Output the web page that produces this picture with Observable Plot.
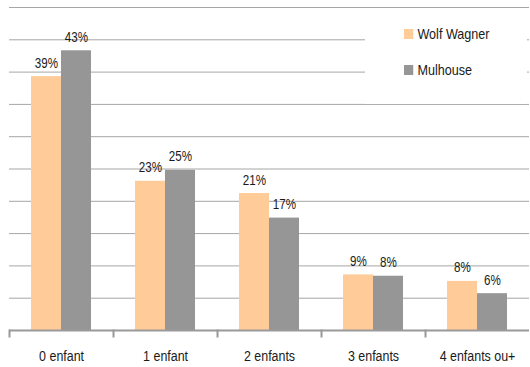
<!DOCTYPE html>
<html>
<head>
<meta charset="utf-8">
<script src="https://cdn.jsdelivr.net/npm/d3@7"></script>
<script src="https://cdn.jsdelivr.net/npm/@observablehq/plot@0.6"></script>
<style>
  html, body { margin: 0; padding: 0; background: #fff; overflow: hidden; }
  #chart { position: relative; width: 530px; height: 367px; }
  .font { font-family: "Liberation Sans", Arial, sans-serif; color: #1a1a1a; }
  #legend { position: absolute; left: 365px; top: 8px; width: 162px; height: 96px; background: #fff; }
  .item { position: absolute; left: 39px; display: flex; align-items: center; font-size: 15px; transform: scaleX(0.84); transform-origin: left center; white-space: nowrap; }
  .sw { width: 11px; height: 10px; margin-right: 5px; }
</style>
</head>
<body>
<div id="chart" class="font"></div>
<script>
const categories = ["0 enfant", "1 enfant", "2 enfants", "3 enfants", "4 enfants ou+"];
const series = ["Wolf Wagner", "Mulhouse"];
const wolfWagner = [39.3, 23.1, 21.2, 8.6, 7.6];
const mulhouse = [43.3, 24.8, 17.4, 8.4, 5.7];
const colors = ["#FFCC99", "#969696"];
const gridValues = [5, 10, 15, 20, 25, 30, 35, 40, 45, 50];

const data = categories.flatMap((c, i) => [
  {category: c, series: series[0], value: wolfWagner[i]},
  {category: c, series: series[1], value: mulhouse[i]}
]);

const W = 530, H = 367, mT = 7, mB = 37;
const innerH = H - mT - mB;

const chart = Plot.plot({
  width: W,
  height: H,
  marginLeft: 7,
  marginRight: 0,
  marginTop: mT,
  marginBottom: mB,
  style: {fontFamily: '"Liberation Sans", Arial, sans-serif', fontSize: "15px", color: "#1a1a1a", background: "#fff"},
  fx: {domain: categories, padding: 0, axis: "bottom", tickSize: 0, tickPadding: 20, label: null},
  x: {domain: series, paddingInner: 0, paddingOuter: 0.72, axis: null},
  y: {domain: [0, 50], axis: null},
  color: {domain: series, range: colors},
  marks: [
    Plot.ruleY(gridValues, {stroke: "#a6a6a6", strokeOpacity: 1, strokeWidth: 1}),
    Plot.barY(data, {fx: "category", x: "series", y: "value", fill: "series"}),
    Plot.text(data, {fx: "category", x: "series", y: "value", text: d => Math.round(d.value) + "%", lineAnchor: "bottom", dy: -9, fontSize: 14, fill: "#1a1a1a"}),
    Plot.ruleY([0], {stroke: "#999", strokeWidth: 2}),
    Plot.frame({anchor: "left", stroke: "#999", strokeWidth: 2, insetTop: innerH, insetBottom: -6})
  ]
});
document.getElementById("chart").appendChild(chart);

// Narrow the text horizontally, as in the reference
chart.querySelectorAll("text").forEach(t => {
  const b = t.getBBox();
  const cx = b.x + b.width / 2;
  const tr = t.getAttribute("transform") || "";
  t.setAttribute("transform", `${tr} translate(${cx},0) scale(0.83,1) translate(${-cx},0)`);
});

const legend = document.createElement("div");
legend.id = "legend";
series.forEach((s, i) => {
  const item = document.createElement("div");
  item.className = "item";
  item.style.top = (i === 0 ? 17 : 53) + "px";
  const sw = document.createElement("span");
  sw.className = "sw";
  sw.style.background = colors[i];
  const t = document.createElement("span");
  t.textContent = s;
  item.appendChild(sw);
  item.appendChild(t);
  legend.appendChild(item);
});
document.getElementById("chart").appendChild(legend);
</script>
</body>
</html>
